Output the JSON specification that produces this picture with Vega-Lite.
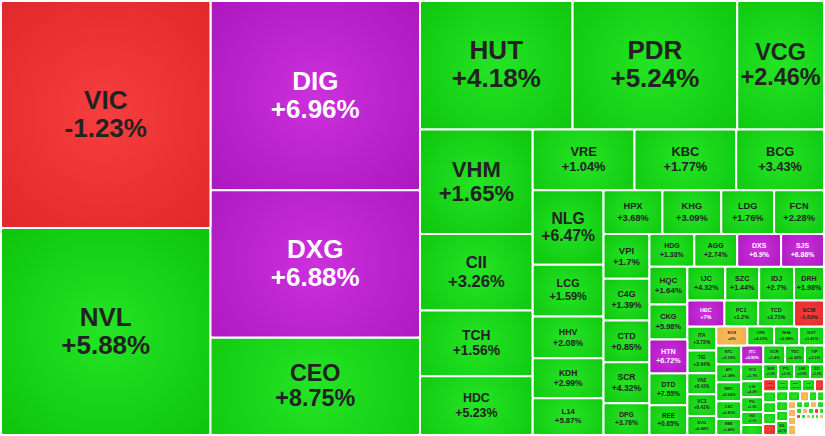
{
  "$schema": "https://vega.github.io/schema/vega-lite/v6.json",
  "width": 825,
  "height": 436,
  "autosize": {"type": "fit", "contains": "padding"},
  "padding": 0,
  "background": "white",
  "view": {"stroke": null},
  "data": {"values": [
    {"t":"VIC","chg":-1.23,"state":"down","x0":0,"x1":210,"y0":0,"y1":228},
    {"t":"NVL","chg":5.88,"state":"up","x0":0,"x1":210,"y0":228,"y1":436},
    {"t":"DIG","chg":6.96,"state":"ceil","x0":210,"x1":420,"y0":0,"y1":190},
    {"t":"DXG","chg":6.88,"state":"ceil","x0":210,"x1":420,"y0":190,"y1":338},
    {"t":"CEO","chg":8.75,"state":"up","x0":210,"x1":420,"y0":338,"y1":436},
    {"t":"HUT","chg":4.18,"state":"up","x0":420,"x1":573,"y0":0,"y1":129},
    {"t":"PDR","chg":5.24,"state":"up","x0":573,"x1":738,"y0":0,"y1":129},
    {"t":"VCG","chg":2.46,"state":"up","x0":738,"x1":825,"y0":0,"y1":129},
    {"t":"VHM","chg":1.65,"state":"up","x0":420,"x1":533,"y0":129,"y1":234},
    {"t":"CII","chg":3.26,"state":"up","x0":420,"x1":533,"y0":234,"y1":311},
    {"t":"TCH","chg":1.56,"state":"up","x0":420,"x1":533,"y0":311,"y1":377},
    {"t":"HDC","chg":5.23,"state":"up","x0":420,"x1":533,"y0":377,"y1":436},
    {"t":"VRE","chg":1.04,"state":"up","x0":533,"x1":635,"y0":129,"y1":190},
    {"t":"KBC","chg":1.77,"state":"up","x0":635,"x1":737,"y0":129,"y1":190},
    {"t":"BCG","chg":3.43,"state":"up","x0":737,"x1":825,"y0":129,"y1":190},
    {"t":"NLG","chg":6.47,"state":"up","x0":533,"x1":604,"y0":190,"y1":265},
    {"t":"LCG","chg":1.59,"state":"up","x0":533,"x1":604,"y0":265,"y1":317},
    {"t":"HHV","chg":2.08,"state":"up","x0":533,"x1":604,"y0":317,"y1":359},
    {"t":"KDH","chg":2.99,"state":"up","x0":533,"x1":604,"y0":359,"y1":399},
    {"t":"L14","chg":5.87,"state":"up","x0":533,"x1":604,"y0":399,"y1":436},
    {"t":"HPX","chg":3.68,"state":"up","x0":604,"x1":663,"y0":190,"y1":234},
    {"t":"KHG","chg":3.09,"state":"up","x0":663,"x1":722,"y0":190,"y1":234},
    {"t":"LDG","chg":1.76,"state":"up","x0":722,"x1":775,"y0":190,"y1":234},
    {"t":"FCN","chg":2.28,"state":"up","x0":775,"x1":825,"y0":190,"y1":234},
    {"t":"VPI","chg":1.7,"state":"up","x0":604,"x1":650,"y0":234,"y1":279},
    {"t":"C4G","chg":1.39,"state":"up","x0":604,"x1":650,"y0":279,"y1":321},
    {"t":"CTD","chg":0.85,"state":"up","x0":604,"x1":650,"y0":321,"y1":363},
    {"t":"SCR","chg":4.32,"state":"up","x0":604,"x1":650,"y0":363,"y1":404},
    {"t":"DPG","chg":3.76,"state":"up","x0":604,"x1":650,"y0":404,"y1":436},
    {"t":"HDG","chg":1.38,"state":"up","x0":650,"x1":695,"y0":234,"y1":267},
    {"t":"AGG","chg":2.74,"state":"up","x0":695,"x1":738,"y0":234,"y1":267},
    {"t":"DXS","chg":6.9,"state":"ceil","x0":738,"x1":782,"y0":234,"y1":267},
    {"t":"SJS","chg":6.86,"state":"ceil","x0":782,"x1":825,"y0":234,"y1":267},
    {"t":"HQC","chg":1.64,"state":"up","x0":650,"x1":688,"y0":267,"y1":305},
    {"t":"CKG","chg":5.98,"state":"up","x0":650,"x1":688,"y0":305,"y1":340},
    {"t":"HTN","chg":6.72,"state":"ceil","x0":650,"x1":688,"y0":340,"y1":374},
    {"t":"DTD","chg":7.55,"state":"up","x0":650,"x1":688,"y0":374,"y1":406},
    {"t":"REE","chg":0.65,"state":"up","x0":650,"x1":688,"y0":406,"y1":436},
    {"t":"IJC","chg":4.32,"state":"up","x0":688,"x1":726,"y0":267,"y1":301},
    {"t":"SZC","chg":1.44,"state":"up","x0":726,"x1":760,"y0":267,"y1":301},
    {"t":"IDJ","chg":2.7,"state":"up","x0":760,"x1":795,"y0":267,"y1":301},
    {"t":"DRH","chg":1.98,"state":"up","x0":795,"x1":825,"y0":267,"y1":301},
    {"t":"HBC","chg":7,"state":"ceil","x0":688,"x1":725,"y0":301,"y1":327},
    {"t":"PC1","chg":1.2,"state":"up","x0":725,"x1":759,"y0":301,"y1":327},
    {"t":"TCD","chg":2.71,"state":"up","x0":759,"x1":795,"y0":301,"y1":327},
    {"t":"BCM","chg":-1.63,"state":"down","x0":795,"x1":825,"y0":301,"y1":327},
    {"t":"ITA","chg":3.72,"state":"up","x0":688,"x1":717,"y0":327,"y1":351},
    {"t":"TIG","chg":3.64,"state":"up","x0":688,"x1":717,"y0":351,"y1":374},
    {"t":"VNE","chg":0.43,"state":"up","x0":688,"x1":717,"y0":374,"y1":395},
    {"t":"VC3","chg":0.41,"state":"up","x0":688,"x1":717,"y0":395,"y1":417},
    {"t":"EVG","chg":6.84,"state":"up","x0":688,"x1":717,"y0":417,"y1":436},
    {"t":"KOS","chg":0,"state":"ref","x0":717,"x1":748,"y0":327,"y1":346},
    {"t":"CRE","chg":4.23,"state":"up","x0":748,"x1":775,"y0":327,"y1":346},
    {"t":"NHA","chg":5.88,"state":"up","x0":775,"x1":800,"y0":327,"y1":346},
    {"t":"DGT","chg":1.41,"state":"up","x0":800,"x1":825,"y0":327,"y1":346},
    {"t":"NTL","chg":3.18,"state":"up","x0":717,"x1":742,"y0":346,"y1":365},
    {"t":"ITC","chg":6.93,"state":"ceil","x0":742,"x1":764,"y0":346,"y1":365},
    {"t":"VCR","chg":1.4,"state":"up","x0":764,"x1":786,"y0":346,"y1":365},
    {"t":"TDC","chg":2.32,"state":"up","x0":786,"x1":806,"y0":346,"y1":365},
    {"t":"TIP","chg":3.1,"state":"up","x0":806,"x1":825,"y0":346,"y1":365},
    {"t":"API","chg":1.38,"state":"up","x0":717,"x1":742,"y0":365,"y1":383},
    {"t":"NRC","chg":5.56,"state":"up","x0":717,"x1":742,"y0":383,"y1":402},
    {"t":"CSC","chg":0.81,"state":"up","x0":717,"x1":742,"y0":402,"y1":420},
    {"t":"NBB","chg":1.48,"state":"up","x0":717,"x1":742,"y0":420,"y1":436},
    {"t":"VC2","chg":1.7,"state":"up","x0":742,"x1":764,"y0":365,"y1":382},
    {"t":"L18","chg":4.2,"state":"up","x0":742,"x1":764,"y0":382,"y1":398},
    {"t":"PVL","chg":1.3,"state":"up","x0":742,"x1":764,"y0":398,"y1":413},
    {"t":"HD6","chg":2.1,"state":"up","x0":742,"x1":764,"y0":413,"y1":426},
    {"t":"HAR","chg":0.9,"state":"up","x0":742,"x1":764,"y0":426,"y1":436},
    {"t":"SGR","chg":1.2,"state":"up","x0":764,"x1":779,"y0":365,"y1":380},
    {"t":"PTL","chg":2.1,"state":"up","x0":779,"x1":795,"y0":365,"y1":380},
    {"t":"LHG","chg":0.9,"state":"up","x0":795,"x1":811,"y0":365,"y1":380},
    {"t":"D11","chg":1.5,"state":"up","x0":811,"x1":825,"y0":365,"y1":380},
    {"t":"TDH","chg":-0.5,"state":"down","x0":764,"x1":777,"y0":380,"y1":392},
    {"t":"VPH","chg":1.8,"state":"up","x0":777,"x1":790,"y0":380,"y1":392},
    {"t":"D2D","chg":2.4,"state":"up","x0":790,"x1":803,"y0":380,"y1":392},
    {"t":"TIX","chg":0.6,"state":"up","x0":803,"x1":816,"y0":380,"y1":392},
    {"t":"NVT","chg":-1.1,"state":"down","x0":816,"x1":825,"y0":380,"y1":392},
    {"t":"DTA","chg":3.1,"state":"up","x0":764,"x1":777,"y0":392,"y1":403},
    {"t":"HPI","chg":1,"state":"up","x0":764,"x1":777,"y0":403,"y1":414},
    {"t":"SDU","chg":2.2,"state":"up","x0":764,"x1":777,"y0":414,"y1":425},
    {"t":"PVR","chg":-2,"state":"down","x0":764,"x1":777,"y0":425,"y1":436},
    {"t":"IDV","chg":1.3,"state":"up","x0":777,"x1":789,"y0":392,"y1":402},
    {"t":"VRC","chg":2,"state":"up","x0":789,"x1":801,"y0":392,"y1":402},
    {"t":"CIG","chg":0,"state":"ref","x0":801,"x1":810,"y0":392,"y1":402},
    {"t":"OGC","chg":1.1,"state":"up","x0":810,"x1":818,"y0":392,"y1":402},
    {"t":"TN1","chg":0.8,"state":"up","x0":818,"x1":825,"y0":392,"y1":402},
    {"t":"PXL","chg":1.5,"state":"up","x0":777,"x1":789,"y0":402,"y1":412},
    {"t":"HD2","chg":2.3,"state":"up","x0":777,"x1":789,"y0":412,"y1":422},
    {"t":"SZL","chg":0.7,"state":"up","x0":777,"x1":789,"y0":422,"y1":436},
    {"t":"NDN","chg":0,"state":"ref","x0":789,"x1":797,"y0":402,"y1":410},
    {"t":"VGL","chg":0,"state":"ref","x0":789,"x1":797,"y0":410,"y1":418},
    {"t":"BII","chg":0,"state":"ref","x0":789,"x1":797,"y0":418,"y1":426},
    {"t":"CCL","chg":0,"state":"ref","x0":789,"x1":797,"y0":426,"y1":436},
    {"t":"VNI","chg":1,"state":"up","x0":797,"x1":804,"y0":402,"y1":409},
    {"t":"RCL","chg":2,"state":"up","x0":804,"x1":811,"y0":402,"y1":409},
    {"t":"LGL","chg":0,"state":"ref","x0":811,"x1":818,"y0":402,"y1":409},
    {"t":"SIC","chg":1.4,"state":"up","x0":818,"x1":825,"y0":402,"y1":409},
    {"t":"QCG","chg":1.2,"state":"up","x0":797,"x1":803,"y0":409,"y1":415},
    {"t":"HLD","chg":0,"state":"ref","x0":803,"x1":809,"y0":409,"y1":415},
    {"t":"DIH","chg":2.5,"state":"up","x0":809,"x1":815,"y0":409,"y1":415},
    {"t":"NTB","chg":-1.5,"state":"down","x0":815,"x1":820,"y0":409,"y1":415},
    {"t":"PPI","chg":3,"state":"up","x0":820,"x1":825,"y0":409,"y1":415},
    {"t":"HU6","chg":-2,"state":"down","x0":797,"x1":802,"y0":415,"y1":420},
    {"t":"VC7","chg":1,"state":"up","x0":802,"x1":807,"y0":415,"y1":420},
    {"t":"LIG","chg":0,"state":"ref","x0":807,"x1":812,"y0":415,"y1":420},
    {"t":"TDS","chg":0.5,"state":"up","x0":812,"x1":816,"y0":415,"y1":420},
    {"t":"DRI","chg":2,"state":"up","x0":816,"x1":820,"y0":415,"y1":420},
    {"t":"KDM","chg":0,"state":"ref","x0":820,"x1":825,"y0":415,"y1":420}
  ]},
  "transform": [
    {"calculate": "(datum.x0 + datum.x1) / 2", "as": "xc"},
    {"calculate": "datum.x1 - datum.x0", "as": "w"},
    {"calculate": "datum.y1 - datum.y0", "as": "h"},
    {"calculate": "min(26, max(0.2 * sqrt(datum.w * datum.h), min(0.27 * datum.w, 0.21 * datum.h)), max(0.21 * datum.h, 0.32 * datum.h - 8))", "as": "fs"},
    {"calculate": "(datum.y0 + datum.y1) / 2 - (datum.fs + 2) / 2", "as": "yc"},
    {"calculate": "datum.t + '\\n' + (datum.chg >= 0 ? '+' : '') + datum.chg + '%'", "as": "label"}
  ],
  "layer": [
    {
      "transform": [{"filter": "datum.state === 'up'"}],
      "mark": {"type": "rect", "stroke": "white", "strokeWidth": 2, "cornerRadius": 2,
        "fill": {"gradient": "radial", "x1": 0.5, "y1": 0.5, "r1": 0, "x2": 0.5, "y2": 0.5, "r2": 0.7,
          "stops": [{"offset": 0, "color": "#25e425"}, {"offset": 1, "color": "#0cc40c"}]}},
      "encoding": {
        "x": {"field": "x0", "type": "quantitative", "scale": {"domain": [0, 825], "nice": false}, "axis": null},
        "x2": {"field": "x1"},
        "y": {"field": "y0", "type": "quantitative", "scale": {"domain": [0, 436], "nice": false, "reverse": true}, "axis": null},
        "y2": {"field": "y1"}
      }
    },
    {
      "transform": [{"filter": "datum.state === 'ceil'"}],
      "mark": {"type": "rect", "stroke": "white", "strokeWidth": 2, "cornerRadius": 2,
        "fill": {"gradient": "radial", "x1": 0.5, "y1": 0.5, "r1": 0, "x2": 0.5, "y2": 0.5, "r2": 0.7,
          "stops": [{"offset": 0, "color": "#cb30dc"}, {"offset": 1, "color": "#aa16bc"}]}},
      "encoding": {
        "x": {"field": "x0", "type": "quantitative", "scale": {"domain": [0, 825], "nice": false}, "axis": null},
        "x2": {"field": "x1"},
        "y": {"field": "y0", "type": "quantitative", "scale": {"domain": [0, 436], "nice": false, "reverse": true}, "axis": null},
        "y2": {"field": "y1"}
      }
    },
    {
      "transform": [{"filter": "datum.state === 'down'"}],
      "mark": {"type": "rect", "stroke": "white", "strokeWidth": 2, "cornerRadius": 2,
        "fill": {"gradient": "radial", "x1": 0.5, "y1": 0.5, "r1": 0, "x2": 0.5, "y2": 0.5, "r2": 0.7,
          "stops": [{"offset": 0, "color": "#f73e3e"}, {"offset": 1, "color": "#e02828"}]}},
      "encoding": {
        "x": {"field": "x0", "type": "quantitative", "scale": {"domain": [0, 825], "nice": false}, "axis": null},
        "x2": {"field": "x1"},
        "y": {"field": "y0", "type": "quantitative", "scale": {"domain": [0, 436], "nice": false, "reverse": true}, "axis": null},
        "y2": {"field": "y1"}
      }
    },
    {
      "transform": [{"filter": "datum.state === 'ref'"}],
      "mark": {"type": "rect", "stroke": "white", "strokeWidth": 2, "cornerRadius": 2,
        "fill": {"gradient": "radial", "x1": 0.5, "y1": 0.5, "r1": 0, "x2": 0.5, "y2": 0.5, "r2": 0.7,
          "stops": [{"offset": 0, "color": "#f9bf60"}, {"offset": 1, "color": "#f0a844"}]}},
      "encoding": {
        "x": {"field": "x0", "type": "quantitative", "scale": {"domain": [0, 825], "nice": false}, "axis": null},
        "x2": {"field": "x1"},
        "y": {"field": "y0", "type": "quantitative", "scale": {"domain": [0, 436], "nice": false, "reverse": true}, "axis": null},
        "y2": {"field": "y1"}
      }
    },
    {
      "transform": [{"filter": "datum.fs >= 2.5"}],
      "mark": {"type": "text", "font": "Liberation Sans", "fontWeight": "bold", "lineBreak": "\n", "align": "center", "baseline": "middle"},
      "encoding": {
        "x": {"field": "xc", "type": "quantitative", "scale": {"domain": [0, 825], "nice": false}, "axis": null},
        "y": {"field": "yc", "type": "quantitative", "scale": {"domain": [0, 436], "nice": false, "reverse": true}, "axis": null},
        "text": {"field": "label"},
        "size": {"field": "fs", "type": "quantitative", "scale": null, "legend": null},
        "color": {"condition": {"test": "datum.state === 'ceil'", "value": "#ffffff"}, "value": "#222222"}
      }
    }
  ]
}
